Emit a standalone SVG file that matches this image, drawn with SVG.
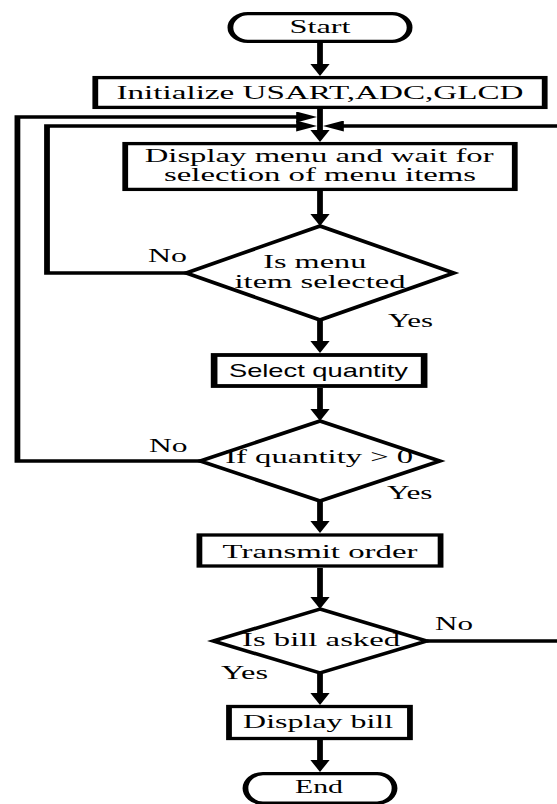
<svg xmlns="http://www.w3.org/2000/svg" width="557" height="804" viewBox="0 0 557 804">
<defs>
<style>
.box{fill:#fff;stroke:#000;stroke-width:3.3}
.ln{fill:none;stroke:#000;stroke-width:3.3}
.t{font-family:"Liberation Serif","Times New Roman",serif;font-size:18.5px;fill:#000}
.c{text-anchor:middle}
.ts{font-family:"Liberation Sans",Arial,sans-serif;font-size:18px;fill:#000}
</style>
<marker id="ah" markerUnits="userSpaceOnUse" viewBox="0 0 12 11" markerWidth="12" markerHeight="11" refX="6" refY="5.5" orient="auto">
<path d="M0,0 L12,5.5 L0,11 z" fill="#000"/>
</marker>
</defs>
<rect width="557" height="804" fill="#fff"/>
<g transform="translate(320,0) scale(1.75,1)">
<g id="connectors" class="ln" marker-end="url(#ah)">
<path d="M0,43 V70"/>
<path d="M0,109 V136"/>
<path d="M0,191 V220"/>
<path d="M0,320 V347"/>
<path d="M0,388 V415"/>
<path d="M0,501 V527"/>
<path d="M0,568 V603"/>
<path d="M0,673 V699"/>
<path d="M0,740 V766"/>
<path d="M-76.5,273 H-156 V126 H-7.6"/>
<path d="M-68.5,461 H-172.9 V117 H-7.6"/>
<path d="M61,641 H140 V126 H7.6"/>
</g>
<g id="start">
<rect class="box" x="-51.2" y="13.6" width="102.4" height="27.8" rx="10" ry="13.9"/>
<text class="t c" x="0" y="33" textLength="34.9" lengthAdjust="spacingAndGlyphs">Start</text>
</g>
<g id="init">
<rect class="box" x="-128.4" y="77.6" width="256.8" height="29.8"/>
<text class="t c" x="0" y="99" textLength="232.6" lengthAdjust="spacingAndGlyphs">Initialize USART,ADC,GLCD</text>
</g>
<g id="display-menu">
<rect class="box" x="-111.3" y="143.6" width="222.6" height="45.8"/>
<text class="t c" x="-0.5" y="162" textLength="199.4" lengthAdjust="spacingAndGlyphs">Display menu and wait for</text>
<text class="t c" x="0" y="181" textLength="178.3" lengthAdjust="spacingAndGlyphs">selection of menu items</text>
</g>
<g id="menu-selected">
<polygon class="box" points="0,226 76.5,273 0,320 -76.5,273"/>
<text class="t c" x="-3" y="268" textLength="58.9" lengthAdjust="spacingAndGlyphs">Is menu</text>
<text class="t c" x="0" y="288" textLength="97.7" lengthAdjust="spacingAndGlyphs">item selected</text>
<text class="t" x="-98.3" y="262" textLength="22.3" lengthAdjust="spacingAndGlyphs">No</text>
<text class="t" x="38.9" y="327" textLength="25.7" lengthAdjust="spacingAndGlyphs">Yes</text>
</g>
<g id="select-quantity">
<rect class="box" x="-60.5" y="355" width="120" height="31" style="stroke-width:3.8"/>
<text class="ts c" x="-0.9" y="377" textLength="102.3" lengthAdjust="spacingAndGlyphs">Select quantity</text>
</g>
<g id="quantity-check">
<polygon class="box" points="0,421 68.5,461 0,501 -68.5,461"/>
<text class="t c" x="-0.5" y="463" textLength="107.4" lengthAdjust="spacingAndGlyphs">If quantity &gt; 0</text>
<text class="t" x="-97.7" y="452" textLength="22" lengthAdjust="spacingAndGlyphs">No</text>
<text class="t" x="38.3" y="499" textLength="26" lengthAdjust="spacingAndGlyphs">Yes</text>
</g>
<g id="transmit">
<rect class="box" x="-68.9" y="535" width="137.8" height="31"/>
<text class="t c" x="0" y="558" textLength="111.4" lengthAdjust="spacingAndGlyphs">Transmit order</text>
</g>
<g id="bill-asked">
<polygon class="box" points="0,609 61,641 0,673 -61,641"/>
<text class="t c" x="0.6" y="646" textLength="90.3" lengthAdjust="spacingAndGlyphs">Is bill asked</text>
<text class="t" x="65.7" y="630" textLength="21.7" lengthAdjust="spacingAndGlyphs">No</text>
<text class="t" x="-56.6" y="679" textLength="26.9" lengthAdjust="spacingAndGlyphs">Yes</text>
</g>
<g id="display-bill">
<rect class="box" x="-52" y="706.5" width="103.4" height="32"/>
<text class="t c" x="-1.1" y="728" textLength="85.7" lengthAdjust="spacingAndGlyphs">Display bill</text>
</g>
<g id="end">
<rect class="box" x="-42.6" y="773.6" width="85.2" height="29.5" rx="10" ry="14.75"/>
<text class="t c" x="-0.6" y="793" textLength="27.4" lengthAdjust="spacingAndGlyphs">End</text>
</g>
</g>
</svg>
